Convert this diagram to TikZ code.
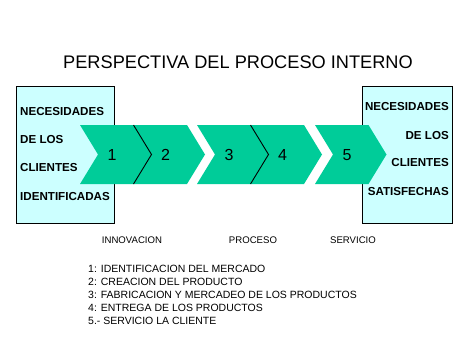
\documentclass[tikz,border=0pt]{standalone}
\usepackage{fontspec}
\setmainfont{Liberation Sans}
\usepackage{xcolor}
\usepackage{tikz}
\definecolor{chevgreen}{HTML}{00CC99}
\definecolor{boxcyan}{HTML}{CCFFFF}
\tikzset{
  needbox/.style={draw=black,fill=boxcyan,line width=0.9pt},
  chevron/.style={fill=chevgreen,draw=none},
  notchline/.style={draw=black,line width=0.9pt},
  needtxt/.style={font=\fontsize{11.6}{13}\selectfont\bfseries,inner sep=0pt},
  numtxt/.style={font=\fontsize{16}{18}\selectfont,inner sep=0pt},
  phasetxt/.style={font=\fontsize{9.6}{11}\selectfont,inner sep=0pt},
  listtxt/.style={font=\fontsize{10.5}{12}\selectfont,inner sep=0pt,anchor=west},
}
\newcommand{\chevpath}[1]{(#1,125) -- ++(53.5,0) -- ++(18,29.5) -- ++(-18,29.5) -- ++(-53.5,0) -- ++(18,-29.5) -- cycle}
\begin{document}
\begin{tikzpicture}[x=1pt,y=-1pt]
  \useasboundingbox[fill=white] (0,0) rectangle (471,353);
  % title
  \node[font=\fontsize{18.2}{20}\selectfont,inner sep=0pt] (title) at (238,62) {PERSPECTIVA DEL PROCESO INTERNO};
  % boxes
  \draw[needbox] (16,86) rectangle (114,223);
  \draw[needbox] (362,86) rectangle (452,223);
  \node[needtxt,anchor=west] (in1) at (20,112) {NECESIDADES};
  \node[needtxt,anchor=west] (in2) at (20,140) {DE LOS};
  \node[needtxt,anchor=west] (in3) at (20,168) {CLIENTES};
  \node[needtxt,anchor=west] (in4) at (20,197) {IDENTIFICADAS};
  \node[needtxt,anchor=east] (out1) at (449,107) {NECESIDADES};
  \node[needtxt,anchor=east] (out2) at (449,136) {DE LOS};
  \node[needtxt,anchor=east] (out3) at (449,163) {CLIENTES};
  \node[needtxt,anchor=east] (out4) at (449,192) {SATISFECHAS};
  % chevrons
  \foreach \x/\n in {80/1,133.5/2,197/3,250.5/4,315/5}{
    \fill[chevron] \chevpath{\x};
    \node[numtxt] (step\n) at (\x+32,155) {\n};
  }
  \draw[notchline] (133.5,125) -- (151.5,154.5) -- (133.5,184);
  \draw[notchline] (250.5,125) -- (268.5,154.5) -- (250.5,184);
  % phases
  \node[phasetxt] (innov) at (132,240) {INNOVACION};
  \node[phasetxt] (proc) at (253,240) {PROCESO};
  \node[phasetxt] (serv) at (353,240) {SERVICIO};
  % legend
  \node[listtxt] (l1) at (88,269) {1: IDENTIFICACION DEL MERCADO};
  \node[listtxt] (l2) at (88,282) {2: CREACION DEL PRODUCTO};
  \node[listtxt] (l3) at (88,295) {3: FABRICACION Y MERCADEO DE LOS PRODUCTOS};
  \node[listtxt] (l4) at (88,308) {4: ENTREGA DE LOS PRODUCTOS};
  \node[listtxt] (l5) at (88,321) {5.- SERVICIO LA CLIENTE};
\end{tikzpicture}
\end{document}
